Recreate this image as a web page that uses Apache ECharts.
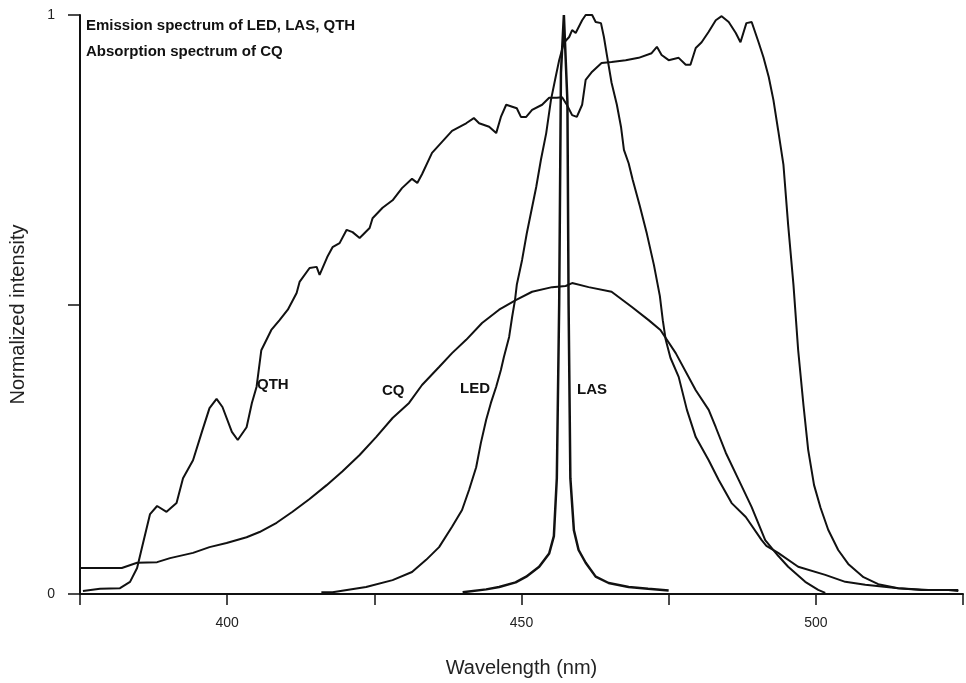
<!DOCTYPE html>
<html>
<head>
<meta charset="utf-8">
<script src="https://cdn.jsdelivr.net/npm/echarts@6/dist/echarts.min.js"></script>
<style>
html,body{margin:0;padding:0;background:#fff;}
#chart{width:966px;height:683px;}
</style>
</head>
<body>
<div id="chart"></div>
<script>
// ---- data (wavelength nm, normalized intensity) ----
const qth = [
[375.5,0.005],[378.4,0.009],[381.8,0.010],[383.5,0.021],[384.7,0.045],[385.5,0.079],[386.9,0.138],[388.1,0.152],
[389.7,0.142],[391.4,0.157],[392.5,0.200],[394.2,0.231],[395.8,0.283],[397.0,0.321],[398.2,0.337],[399.2,0.323],
[400.8,0.280],[401.8,0.266],[403.3,0.288],[404.2,0.330],[405.0,0.358],[405.8,0.421],[407.5,0.456],[408.9,0.473],
[410.3,0.491],[411.8,0.520],[412.3,0.539],[414.0,0.563],[415.2,0.565],[415.7,0.551],[417.0,0.582],[417.9,0.599],
[419.1,0.606],[420.3,0.629],[421.3,0.625],[422.5,0.615],[424.2,0.632],[424.7,0.649],[426.4,0.667],[428.1,0.680],
[429.7,0.701],[431.4,0.717],[432.3,0.710],[433.1,0.725],[434.8,0.762],[436.5,0.781],[438.2,0.800],[440.6,0.813],
[441.9,0.822],[442.8,0.813],[444.5,0.807],[445.7,0.796],[446.5,0.824],[447.4,0.845],[449.2,0.839],[449.9,0.824],
[450.8,0.824],[451.8,0.836],[453.5,0.845],[454.7,0.857],[456.0,0.857],[456.9,0.858],[457.7,0.845],[458.6,0.827],
[459.4,0.824],[460.3,0.845],[460.9,0.888],[462.0,0.902],[463.6,0.917],[465.3,0.919],[467.7,0.922],[469.9,0.926],
[472.1,0.934],[473.0,0.945],[473.8,0.931],[475.0,0.922],[476.7,0.926],[477.9,0.914],[478.7,0.914],[479.6,0.943],
[480.6,0.953],[481.8,0.971],[483.0,0.991],[484.0,0.998],[485.2,0.988],[486.4,0.969],[487.2,0.953],[488.2,0.986],
[489.1,0.988],[490.3,0.952],[491.1,0.927],[492.0,0.893],[492.8,0.853],[493.6,0.801],[494.5,0.741],[495.3,0.637],
[496.2,0.534],[497.0,0.421],[497.9,0.326],[498.7,0.249],[499.7,0.188],[500.8,0.149],[502.1,0.111],[503.8,0.076],
[505.5,0.052],[508.1,0.029],[510.6,0.017],[514.0,0.010],[519.1,0.007],[524.2,0.007]
];
const cq = [
[375.0,0.045],[382.1,0.045],[384.7,0.054],[388.1,0.055],[390.3,0.062],[394.2,0.071],[397.0,0.081],[399.9,0.088],
[403.3,0.098],[405.5,0.107],[408.4,0.123],[411.1,0.142],[414.0,0.164],[416.9,0.188],[419.6,0.212],[422.5,0.240],
[425.3,0.271],[428.1,0.304],[430.9,0.330],[433.1,0.361],[436.0,0.392],[438.2,0.416],[440.6,0.439],[443.3,0.468],
[446.2,0.491],[449.1,0.508],[451.8,0.522],[455.2,0.530],[457.5,0.532],[458.6,0.537],[461.4,0.530],[465.3,0.522],
[468.7,0.496],[471.6,0.473],[473.6,0.456],[476.2,0.416],[479.6,0.352],[481.8,0.318],[483.0,0.288],[484.7,0.244],
[486.9,0.197],[489.1,0.150],[491.4,0.093],[493.6,0.066],[495.3,0.047],[498.2,0.021],[500.4,0.007],[501.6,0.002]
];
const led = [
[416.0,0.003],[417.9,0.003],[423.6,0.012],[428.1,0.024],[431.4,0.038],[433.8,0.059],[436.0,0.081],[438.2,0.116],
[439.9,0.145],[441.1,0.180],[442.3,0.219],[443.1,0.261],[444.0,0.301],[444.8,0.330],[445.7,0.358],[446.5,0.387],
[447.0,0.409],[447.9,0.444],[448.4,0.478],[448.9,0.508],[449.2,0.534],[450.1,0.577],[450.9,0.623],[452.5,0.703],
[453.3,0.750],[454.2,0.796],[455.0,0.853],[455.8,0.893],[456.4,0.922],[457.2,0.952],[458.1,0.962],[458.6,0.974],
[459.2,0.969],[460.3,0.991],[460.9,1.000],[462.0,1.000],[462.6,0.988],[463.5,0.986],[464.0,0.962],[464.5,0.931],
[465.3,0.883],[466.2,0.845],[466.9,0.807],[467.4,0.767],[468.2,0.744],[468.9,0.715],[470.1,0.670],[471.3,0.622],
[472.5,0.568],[473.5,0.515],[474.0,0.473],[474.5,0.439],[475.3,0.408],[476.7,0.375],[478.1,0.318],[479.6,0.271],
[481.8,0.231],[483.5,0.197],[485.7,0.157],[488.1,0.133],[490.8,0.093],[491.6,0.083],[493.6,0.071],[497.0,0.047],
[501.6,0.033],[505.0,0.021],[508.4,0.016],[514.0,0.010],[517.9,0.007],[522.5,0.007],[524.2,0.005]
];
const las = [
[440.0,0.003],[444.0,0.008],[446.2,0.012],[449.0,0.020],[450.8,0.030],[453.0,0.047],[454.7,0.070],[455.5,0.100],
[456.0,0.200],[456.4,0.500],[456.7,0.900],[457.2,1.000],[457.5,1.000],[457.8,0.850],[458.0,0.500],[458.3,0.200],
[458.9,0.110],[459.7,0.076],[460.9,0.054],[462.6,0.030],[464.8,0.019],[468.2,0.012],[471.5,0.009],[475.0,0.006]
];
const xTickLabels = [400, 450, 500];
const yTickLabels = [0, 1];
const titleLines = ['Emission spectrum of LED, LAS, QTH', 'Absorption spectrum of CQ'];
const curveLabels = ['QTH', 'CQ', 'LED', 'LAS'];

// ---- chart ----
const FONT = '"Liberation Sans", Arial, sans-serif';
const chart = echarts.init(document.getElementById('chart'), null, {renderer: 'canvas'});
const lineSeries = (name, data, w) => ({
  name, type: 'line', data, showSymbol: false, symbol: 'none', smooth: false,
  lineStyle: {color: '#111', width: w}, animation: false, z: 3
});
const labelPos = [[257, 377], [382, 383], [460, 381], [577, 382]];
chart.setOption({
  animation: false,
  backgroundColor: '#fff',
  grid: {left: 80, right: 1, top: 15, bottom: 89, containLabel: false},
  xAxis: {
    type: 'value', min: 375, max: 525, interval: 25,
    name: 'Wavelength (nm)', nameLocation: 'middle', nameGap: 64,
    nameTextStyle: {fontFamily: FONT, fontSize: 20, color: '#222'},
    axisLine: {show: true, onZero: false, lineStyle: {color: '#111', width: 2}},
    axisTick: {show: true, length: 11, lineStyle: {color: '#111', width: 1.5}},
    axisLabel: {
      margin: 22, fontFamily: FONT, fontSize: 14, color: '#222',
      formatter: v => (xTickLabels.indexOf(v) >= 0 ? String(v) : '')
    },
    splitLine: {show: false}
  },
  yAxis: {
    type: 'value', min: 0, max: 1, interval: 0.5,
    name: 'Normalized intensity', nameLocation: 'middle', nameGap: 52, nameRotate: 90,
    nameTextStyle: {fontFamily: FONT, fontSize: 20, color: '#222', padding: [0, 20, 0, 0]},
    axisLine: {show: true, onZero: false, lineStyle: {color: '#111', width: 2}},
    axisTick: {show: true, length: 12, lineStyle: {color: '#111', width: 1.5}},
    axisLabel: {
      margin: 25, fontFamily: FONT, fontSize: 14, color: '#222',
      formatter: v => (yTickLabels.indexOf(v) >= 0 ? String(v) : '')
    },
    splitLine: {show: false}
  },
  graphic: [
    {type: 'text', left: 86, top: 18, style: {text: titleLines[0], font: 'bold 15px ' + FONT, fill: '#111'}},
    {type: 'text', left: 86, top: 44, style: {text: titleLines[1], font: 'bold 15px ' + FONT, fill: '#111'}}
  ].concat(curveLabels.map((t, i) => ({
    type: 'text', left: labelPos[i][0], top: labelPos[i][1],
    style: {text: t, font: 'bold 15px ' + FONT, fill: '#111'}
  }))),
  series: [
    lineSeries('QTH', qth, 2),
    lineSeries('CQ', cq, 2),
    lineSeries('LED', led, 2),
    lineSeries('LAS', las, 2.5)
  ]
});
</script>
</body>
</html>
